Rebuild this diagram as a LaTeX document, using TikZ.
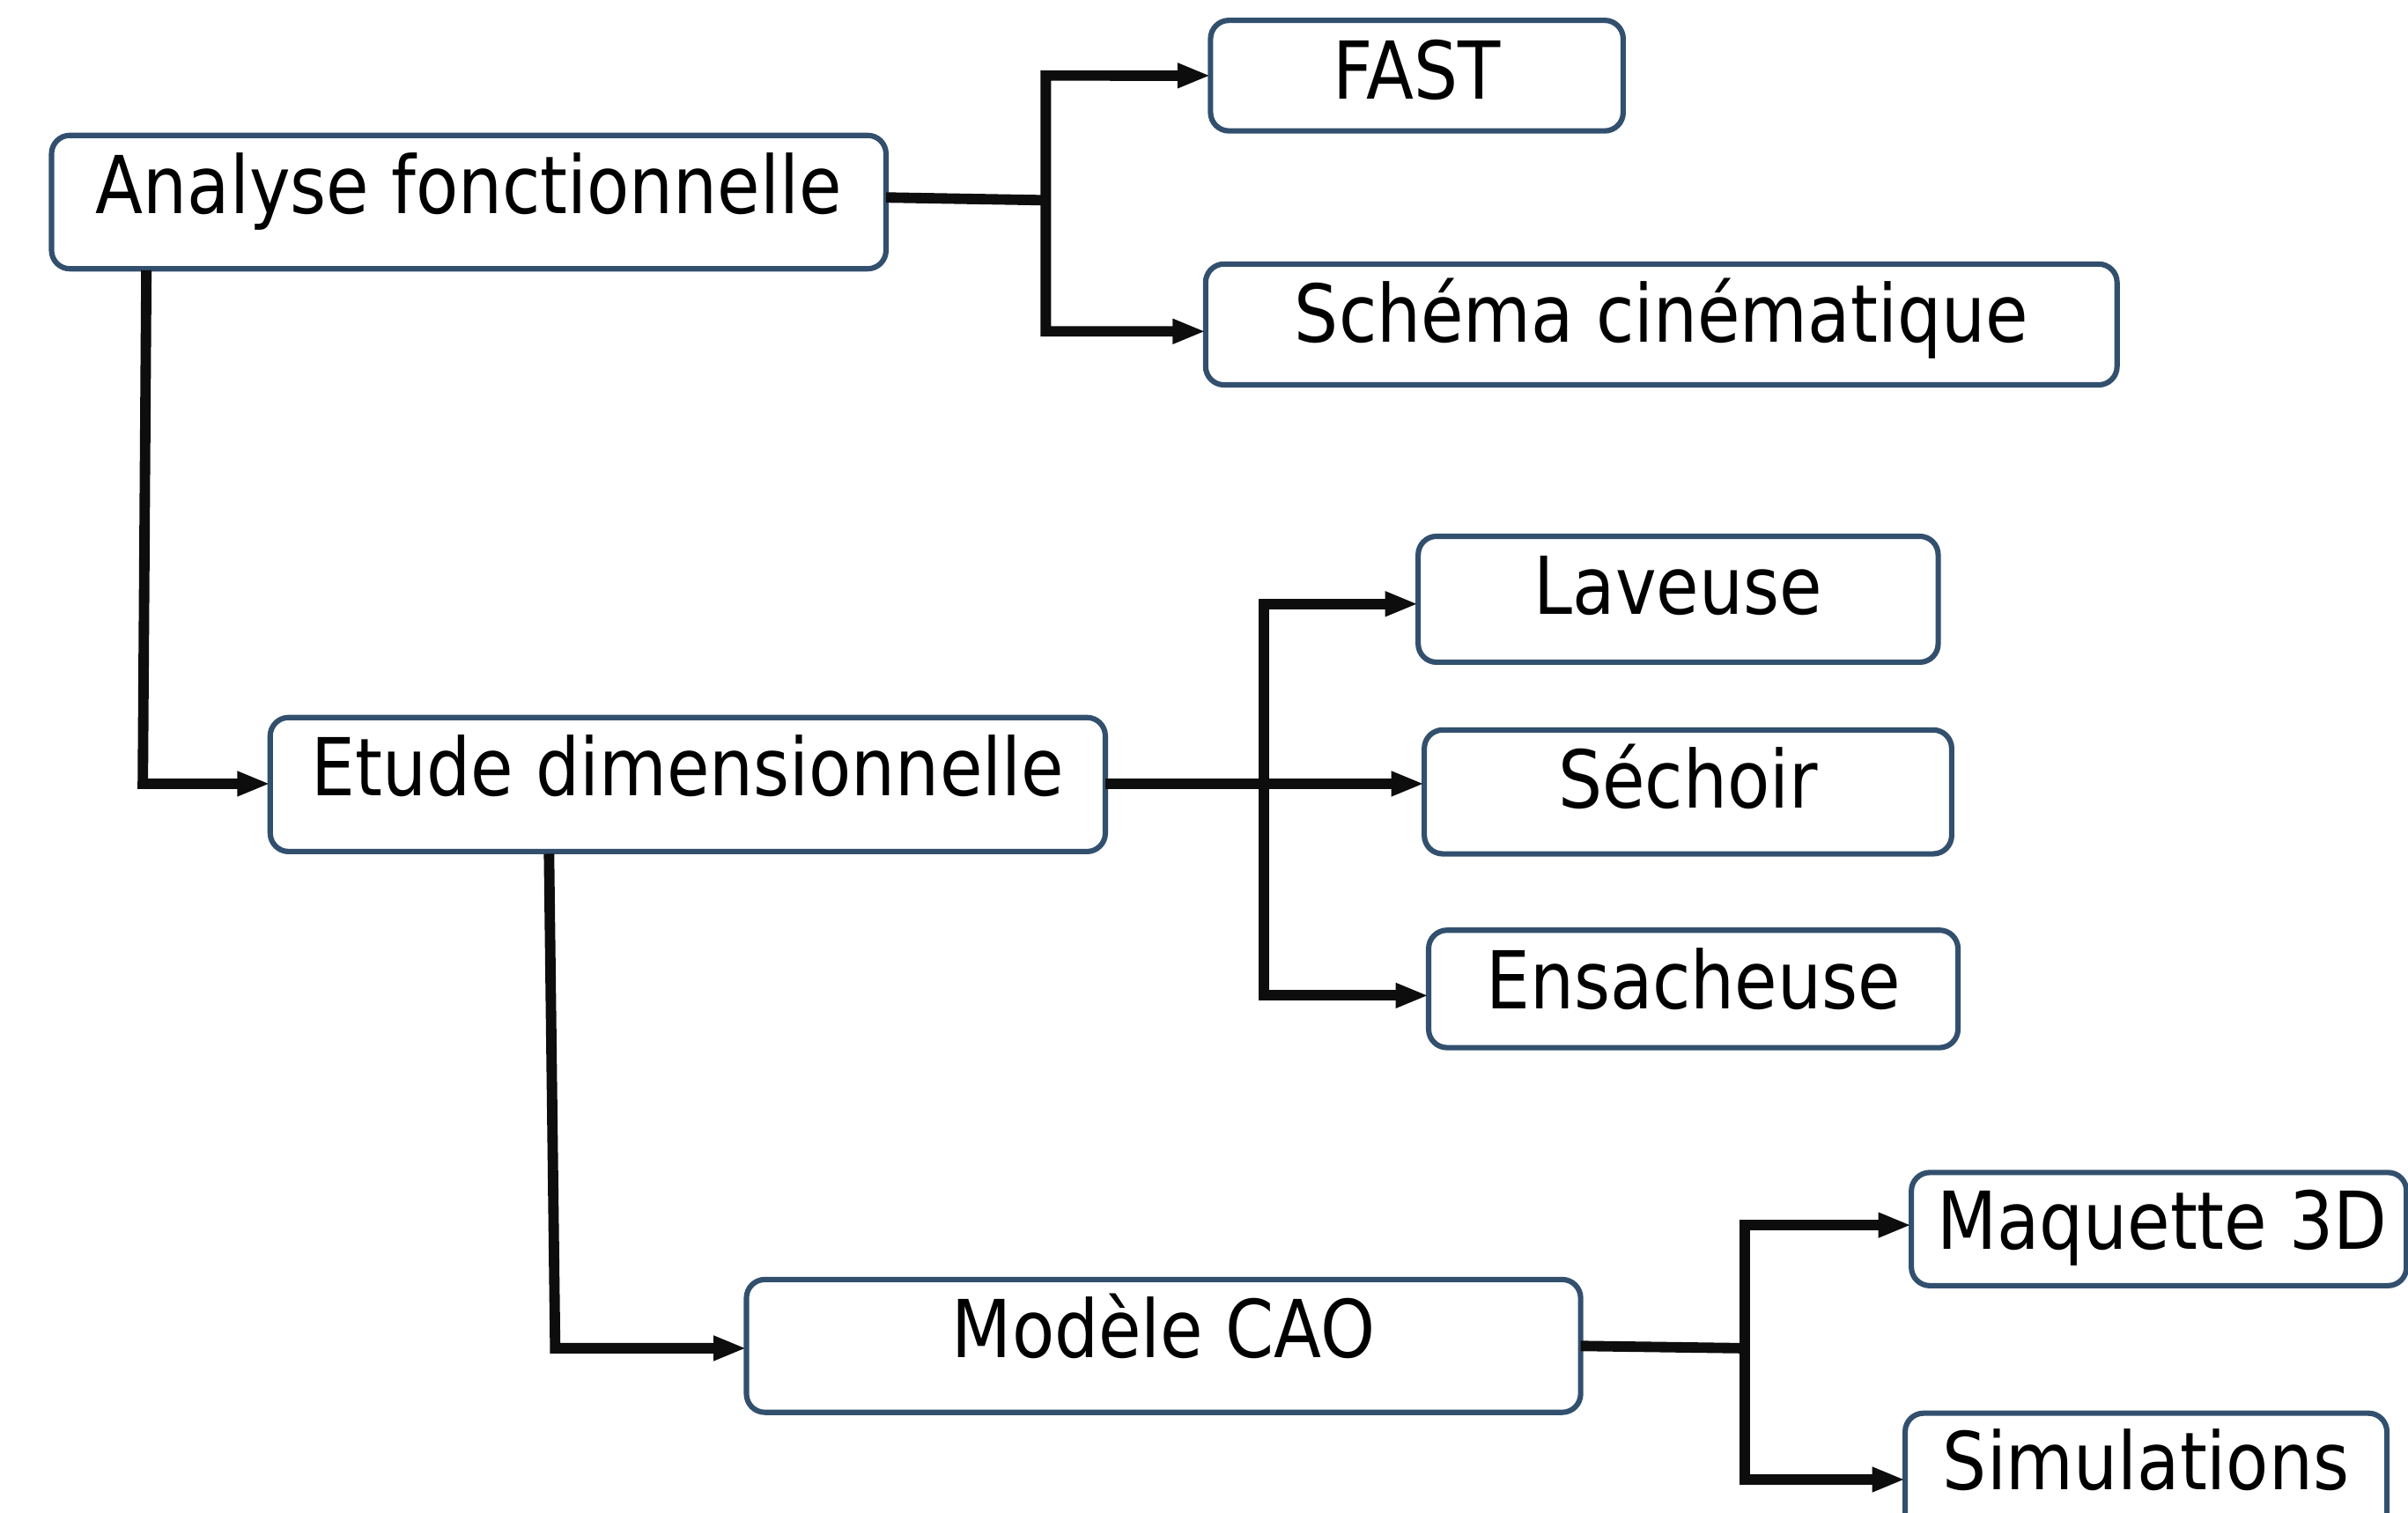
\documentclass[tikz,border=0pt]{standalone}
\usepackage{fontspec}
\setmainfont{DejaVu Sans}[FakeStretch=0.87]
\usetikzlibrary{arrows.meta}
\definecolor{boxline}{RGB}{50,80,110}
\definecolor{wirecol}{RGB}{13,13,13}
\begin{document}
\begin{tikzpicture}[x=1pt,y=-1pt,
  box/.style={draw=boxline, line width=3.5pt, rounded corners=12pt, fill=white,
              inner sep=0pt, outer sep=0pt},
  lbl/.style={anchor=base, inner sep=0pt, outer sep=0pt, text=black,
              font=\fontsize{52}{60}\selectfont},
  wire/.style={draw=wirecol, line width=6.8pt, line join=miter},
  tip/.style={-{Triangle[length=21.5pt,width=15pt]}},
  tips/.style={{Triangle[length=21.5pt,width=15pt]}-{Triangle[length=21.5pt,width=15pt]}}]

\useasboundingbox (0,0) rectangle (1568,985);
\clip (0,0) rectangle (1568,985);

% boxes
\node[box, minimum width=543.4pt, minimum height=86.9pt] (A)      at (305.25,131.6) {};
\node[box, minimum width=268.7pt, minimum height=72pt]   (FAST)   at (922.6,49.25)  {};
\node[box, minimum width=593.5pt, minimum height=78.7pt] (Schema) at (1081.8,211.3) {};
\node[box, minimum width=543.8pt, minimum height=87.3pt] (Etude)  at (447.85,510.9) {};
\node[box, minimum width=338.6pt, minimum height=82pt]   (Lav)    at (1092.75,390.25) {};
\node[box, minimum width=343.4pt, minimum height=80.7pt] (Sech)   at (1099.15,515.7) {};
\node[box, minimum width=344.7pt, minimum height=76.5pt] (Ens)    at (1102.6,644) {};
\node[box, minimum width=543.2pt, minimum height=86.5pt] (Mod)    at (757.65,876.5) {};
\node[box, minimum width=322.4pt, minimum height=73.7pt] (Maq)    at (1405.8,800.4) {};
\node[box, minimum width=313.7pt, minimum height=100pt]  (Sim)    at (1397.4,970.3) {};

% labels
\node[lbl] (tA)      at ([yshift=-51pt]A.north)      {Analyse fonctionnelle};
\node[lbl] (tFAST)   at ([yshift=-51pt]FAST.north)   {FAST};
\node[lbl] (tSchema) at ([yshift=-51pt]Schema.north) {Schéma cinématique};
\node[lbl] (tEtude)  at ([yshift=-51pt]Etude.north)  {Etude dimensionnelle};
\node[lbl] (tLav)    at ([yshift=-51pt]Lav.north)    {Laveuse};
\node[lbl] (tSech)   at ([yshift=-51pt]Sech.north)   {Séchoir};
\node[lbl] (tEns)    at ([yshift=-51pt]Ens.north)    {Ensacheuse};
\node[lbl] (tMod)    at ([yshift=-51pt]Mod.north)    {Modèle CAO};
\node[lbl] (tMaq)    at ([xshift=2pt,yshift=-50pt]Maq.north) {Maquette 3D};
\node[lbl] (tSim)    at ([yshift=-50pt]Sim.north)    {Simulations};

% junction points
\coordinate (jA)  at (681,130.4);
\coordinate (jAt) at (681,49.2);
\coordinate (jAb) at (681,215.8);
\coordinate (a2)  at (95.3,176);
\coordinate (e2)  at (93,510.4);
\coordinate (jE)  at (823,510.4);
\coordinate (jEt) at (823,393.3);
\coordinate (jEb) at (823,648.3);
\coordinate (a4)  at (357.5,556);
\coordinate (e4)  at (361.5,878);
\coordinate (jM)  at (1136,878);
\coordinate (jMt) at (1136,797.8);
\coordinate (jMb) at (1136,963.5);

% Analyse fonctionnelle branches
\draw[wire] ([yshift=3pt]A.east) -- (jA);
\draw[wire,tips] (FAST.west) -- (jAt) -- (jAb) -- (Schema.west |- jAb);
\draw[wire,tip] (a2) -- (e2) -- (Etude.west |- e2);

% Etude dimensionnelle branches
\draw[wire,tip] (Etude.east |- jE) -- (Sech.west |- jE);
\draw[wire,tips] (Lav.west |- jEt) -- (jEt) -- (jEb) -- (Ens.west |- jEb);
\draw[wire,tip] (a4) -- (e4) -- (Mod.west |- e4);

% Modèle CAO branches
\draw[wire] (Mod.east) -- (jM);
\draw[wire,tips] (Maq.west |- jMt) -- (jMt) -- (jMb) -- (Sim.west |- jMb);

\end{tikzpicture}
\end{document}
